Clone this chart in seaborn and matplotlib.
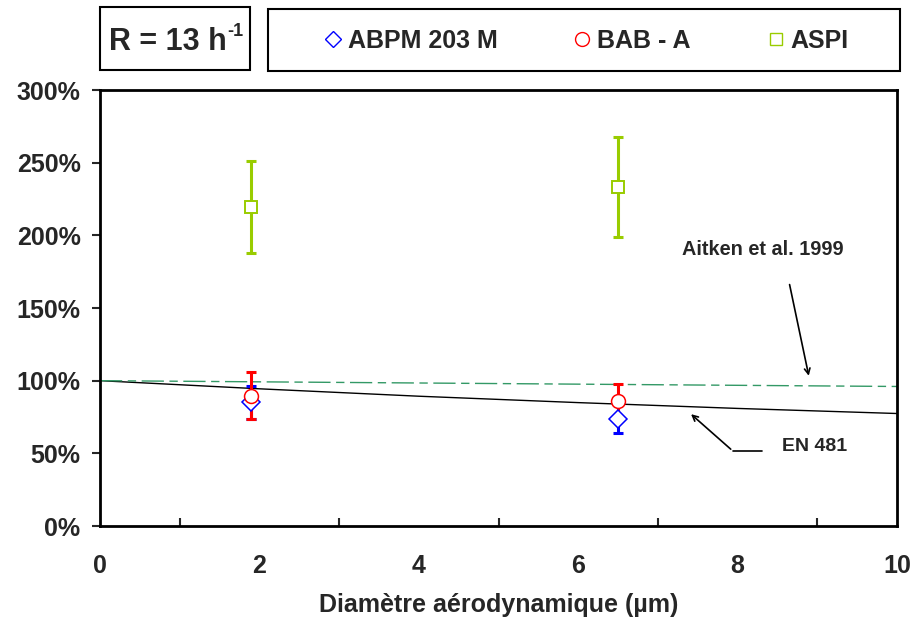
import pandas as pd
import seaborn as sns
import matplotlib.pyplot as plt
from matplotlib.lines import Line2D
from matplotlib.patches import Rectangle
from matplotlib.ticker import MultipleLocator, PercentFormatter

# donnees (efficacite en %)
diametre = [1.9, 6.5]
abpm = [85, 73.4]
abpm_err = [11.5, 9.6]
bab = [89.5, 86.2]
bab_err = [16.2, 11.7]
aspi = [219.7, 233.5]
aspi_err_bas = [31.6, 34.4]
aspi_err_haut = [31.5, 34.2]

# conventions
en481_d = [0, 2, 4, 6, 8, 10]
en481_val = [100, 94.4, 89.3, 84.9, 80.9, 77.4]
aitken_d = [0, 10]
aitken_val = [100, 96]

sns.set_style('white')
plt.rcParams['font.family'] = ['Liberation Sans', 'DejaVu Sans']
plt.rcParams['font.weight'] = 'bold'

W, H = 913, 622
fig = plt.figure(figsize=(W / 100, H / 100), dpi=100)
ax = fig.add_axes([100 / W, 1 - 526 / H, 797 / W, 436 / H])

df_en = pd.DataFrame({'d': en481_d, 'v': en481_val})
df_ai = pd.DataFrame({'d': aitken_d, 'v': aitken_val})
sns.lineplot(data=df_en, x='d', y='v', color='black', lw=1, ax=ax)
sns.lineplot(data=df_ai, x='d', y='v', color='#339966', lw=1, ax=ax,
             dashes=False, linestyle=(0, (16, 4, 6, 4)))

kw = dict(fmt='none', elinewidth=2.2, capsize=3.3, capthick=2.2, zorder=3)
ax.errorbar(diametre, abpm, yerr=abpm_err, ecolor='#0000FF', **kw)
ax.errorbar(diametre, bab, yerr=bab_err, ecolor='#FF0000', **kw)
ax.errorbar(diametre, aspi, yerr=[aspi_err_bas, aspi_err_haut], ecolor='#99CC00', **kw)

ax.plot(diametre, abpm, 'D', ms=9, mfc='white', mec='#0000FF', mew=1.1, zorder=4)
ax.plot(diametre, bab, 'o', ms=10, mfc='white', mec='#FF0000', mew=1.1, zorder=4)
ax.plot(diametre, aspi, 's', ms=8.5, mfc='white', mec='#99CC00', mew=1.4, zorder=4)

ax.set_xlim(0, 10)
ax.set_ylim(0, 300)
ax.xaxis.set_major_locator(MultipleLocator(2))
ax.xaxis.set_minor_locator(MultipleLocator(1))
ax.yaxis.set_major_locator(MultipleLocator(50))
ax.yaxis.set_major_formatter(PercentFormatter(decimals=0))
ax.tick_params(axis='x', which='major', direction='inout', length=12, width=1.5,
               labelsize=18, pad=14)
ax.tick_params(axis='x', which='minor', direction='in', length=6, width=1.5, bottom=True)
ax.tick_params(axis='y', which='major', direction='out', length=6, width=1.5,
               labelsize=18, left=True, pad=8)
for s in ax.spines.values():
    s.set_linewidth(2)
    s.set_color('black')

ax.set_xlabel('Diamètre aérodynamique (µm)', fontsize=18, fontweight='bold', labelpad=11)
ax.set_ylabel('')

# annotations
ax.annotate('', xy=(8.9, 101.5), xytext=(8.645, 168),
            arrowprops=dict(arrowstyle='->', color='black', lw=1.2))
ax.text(8.32, 190, 'Aitken et al. 1999', ha='center', va='center', fontsize=14.3,
        fontweight='bold')
ax.plot([7.94, 8.31], [51.6, 51.6], color='black', lw=1.2, clip_on=False)
ax.annotate('', xy=(7.39, 78.2), xytext=(7.94, 51.6),
            arrowprops=dict(arrowstyle='->', color='black', lw=1.2))
ax.text(8.97, 55, 'EN 481', ha='center', va='center', fontsize=14, fontweight='bold')

# encadres du haut
fig.patches.append(Rectangle((100 / W, 1 - 70 / H), 150 / W, 63 / H, transform=fig.transFigure,
                             fill=False, ec='black', lw=1.5))
fig.patches.append(Rectangle((268 / W, 1 - 71 / H), 632 / W, 62 / H, transform=fig.transFigure,
                             fill=False, ec='black', lw=1.5))

handles = [
    Line2D([], [], ls='none', marker='D', ms=8, mfc='white', mec='#0000FF'),
    Line2D([], [], ls='none', marker='o', ms=10, mfc='white', mec='#FF0000'),
    Line2D([], [], ls='none', marker='s', ms=8, mfc='white', mec='#99CC00'),
]
fig.legend(handles, ['ABPM 203 M', 'BAB - A', 'ASPI'], ncol=3,
           loc='center', bbox_to_anchor=(587 / W, 1 - 41 / H),
           frameon=False, handlelength=0.6, handletextpad=0.3,
           columnspacing=3.1, borderpad=0, prop={'size': 18, 'weight': 'bold'})

t = fig.text(109 / W, 1 - 42 / H, 'R = 13 h', ha='left', va='center',
             fontsize=22, fontweight='bold')
fig.text(0, 0, '-1', fontsize=13, fontweight='bold', ha='left', va='top',
         transform=t.get_transform())
fig.canvas.draw()
bb = t.get_window_extent().transformed(fig.transFigure.inverted())
fig.texts[-1].set_position((bb.x1 + 1 / W, bb.y1 + 4 / H))

fig.savefig('out.png', dpi=100)
